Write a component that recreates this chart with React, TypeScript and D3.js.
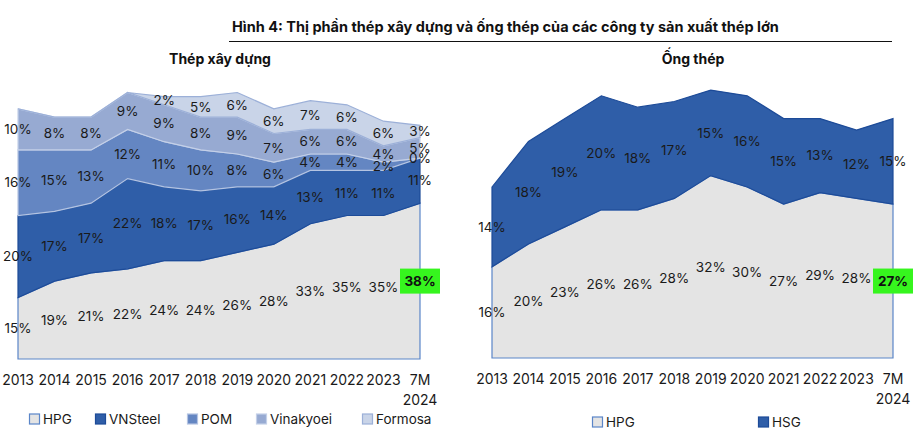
import React from 'react'
import * as d3 from 'd3'

const years = ['2013', '2014', '2015', '2016', '2017', '2018', '2019', '2020', '2021', '2022', '2023', '7M 2024']

// Thép xây dựng (%)
const hpgRebar = [15, 19, 21, 22, 24, 24, 26, 28, 33, 35, 35, 38]
const vnsteel = [20, 17, 17, 22, 18, 17, 16, 14, 13, 11, 11, 11]
const pom = [16, 15, 13, 12, 11, 10, 8, 6, 4, 4, 2, 0]
const vinakyoei = [10, 8, 8, 9, 9, 8, 9, 7, 6, 6, 4, 5]
const formosa = [null, null, null, null, 2, 5, 6, 6, 7, 6, 6, 3]

// Ống thép (%)
const hpgPipe = [16, 20, 23, 26, 26, 28, 32, 30, 27, 29, 28, 27]
const hsg = [14, 18, 19, 20, 18, 17, 15, 16, 15, 13, 12, 15]

const FONT = 'Inter, "Noto Sans", sans-serif'
const GREEN = '#36f51e'

type Series = { name: string, values: (number | null)[], fill: string, stroke: string }

const rebarSeries: Series[] = [
  { name: 'HPG', values: hpgRebar, fill: '#e4e4e4', stroke: '#5a85c8' },
  { name: 'VNSteel', values: vnsteel, fill: '#2f5ea8', stroke: '#1d4b98' },
  { name: 'POM', values: pom, fill: '#6486c2', stroke: '#b4c4e2' },
  { name: 'Vinakyoei', values: vinakyoei, fill: '#97aad2', stroke: '#c4d0e8' },
  { name: 'Formosa', values: formosa, fill: '#c9d4e8', stroke: '#9cb0d8' },
]

const pipeSeries: Series[] = [
  { name: 'HPG', values: hpgPipe, fill: '#e4e4e4', stroke: '#5a85c8' },
  { name: 'HSG', values: hsg, fill: '#2f5ea8', stroke: '#1d4b98' },
]

function StackChart(props: { series: Series[], x0: number, x1: number, y0: number, maxV: number, yTop: number }) {
  const { series, x0, x1, y0, maxV, yTop } = props
  const x = d3.scalePoint<string>().domain(years).range([x0, x1])
  const y = d3.scaleLinear().domain([0, maxV]).range([y0, yTop])

  const rows = years.map((yr, i) => {
    const r: any = { year: yr }
    series.forEach(s => { r[s.name] = s.values[i] ?? 0 })
    return r
  })
  const stacked = d3.stack<any>().keys(series.map(s => s.name))(rows)
  const area = d3.area<any>()
    .x(d => x(d.data.year) as number)
    .y0(d => y(d[0] / 100))
    .y1(d => y(d[1] / 100))

  const last = years.length - 1

  return (
    <g>
      {stacked.map((layer, k) => (
        <path key={k} d={area(layer) || ''} fill={series[k].fill} stroke={series[k].stroke} strokeWidth={1.2} />
      ))}
      {stacked.map((layer, k) => layer.map((d, i) => {
        const v = series[k].values[i]
        if (v == null) return null
        const cx = x(years[i]) as number
        const cy = y((d[0] + d[1]) / 200)
        if (k === 0 && i === last) {
          return (
            <g key={k + '-' + i}>
              <rect x={cx - 20} y={cy - 12.5} width={40} height={25} fill={GREEN} />
              <text x={cx} y={cy} dy="0.35em" textAnchor="middle" fontSize={13.5} fontWeight={700} fill="#111">{v}%</text>
            </g>
          )
        }
        return (
          <text key={k + '-' + i} x={cx} y={cy} dy="0.35em" textAnchor="middle" fontSize={13.5} fill="#1a1a1a">{v}%</text>
        )
      }))}
      {years.map((yr, i) => {
        const parts = yr.split(' ')
        return parts.map((p, j) => (
          <text key={yr + j} x={x(yr) as number} y={y0 + 21 + j * 20} dy="0.35em" textAnchor="middle" fontSize={14} fill="#1a1a1a">{p}</text>
        ))
      })}
    </g>
  )
}

function Legend(props: { series: Series[], xs: number[], y: number }) {
  const { series, xs, y } = props
  return (
    <g>
      {series.map((s, i) => (
        <g key={s.name} transform={`translate(${xs[i]},${y})`}>
          <rect x={0.5} y={-5} width={10} height={10} fill={s.fill} stroke={s.name === 'HPG' ? '#5a85c8' : s.stroke} strokeWidth={1.2} />
          <text x={14} y={0} dy="0.35em" fontSize={13.5} fill="#1a1a1a">{s.name}</text>
        </g>
      ))}
    </g>
  )
}

export default function App() {
  return (
    <svg width={922} height={434} style={{ position: 'absolute', left: 0, top: 0, fontFamily: FONT, background: '#fff' }}>
      <rect width={922} height={434} fill="#fff" />
      <text x={232} y={27} dy="0.35em" fontSize={14.5} fontWeight={700} fill="#111">
        Hình 4: Thị phần thép xây dựng và ống thép của các công ty sản xuất thép lớn
      </text>
      <line x1={229} x2={892} y1={41.5} y2={41.5} stroke="#111" strokeWidth={1.2} />
      <text x={220} y={59} dy="0.35em" textAnchor="middle" fontSize={14} fontWeight={700} fill="#111">Thép xây dựng</text>
      <text x={693} y={59} dy="0.35em" textAnchor="middle" fontSize={14} fontWeight={700} fill="#111">Ống thép</text>

      <StackChart series={rebarSeries} x0={18} x1={420} y0={359} maxV={0.7} yTop={72} />
      <StackChart series={pipeSeries} x0={492} x1={893} y0={358} maxV={0.5} yTop={73} />

      <Legend series={rebarSeries} xs={[29, 95, 187, 256, 362]} y={419} />
      <Legend series={pipeSeries} xs={[592, 758]} y={422} />
    </svg>
  )
}
